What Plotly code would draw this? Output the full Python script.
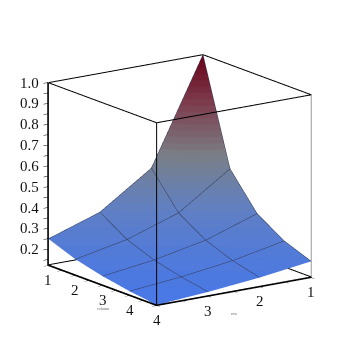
import plotly.graph_objects as go

rows = [1, 2, 3, 4]
columns = [1, 2, 3, 4, 5]
# z_values[row index][column index]
z_values = [
    [1.000, 0.500, 0.333, 0.250, 0.200],
    [0.500, 0.333, 0.250, 0.200, 0.167],
    [0.333, 0.250, 0.200, 0.167, 0.143],
    [0.250, 0.200, 0.167, 0.143, 0.125],
]
row_ticks = [1, 1.5, 2, 2.5, 3, 3.5, 4]
col_ticks = [1, 1.5, 2, 2.5, 3, 3.5, 4, 4.5, 5]
row_labels = ["1", "2", "3", "4"]
col_labels = ["1", "2", "3", "4"]
z_ticks = [0.15, 0.2, 0.25, 0.3, 0.35, 0.4, 0.45, 0.5, 0.55, 0.6, 0.65, 0.7, 0.75, 0.8, 0.85, 0.9, 0.95, 1.0]
z_label_values = [0.2, 0.3, 0.4, 0.5, 0.6, 0.7, 0.8, 0.9, 1.0]
z_label_text = ["0.2", "0.3", "0.4", "0.5", "0.6", "0.7", "0.8", "0.9", "1.0"]
color_stops = [(0, (72, 119, 230)), (0.25, (96, 128, 196)), (0.5, (122, 127, 134)),
               (0.75, (125, 64, 80)), (1, (106, 0, 24))]
z_low, z_high = 0.125, 1.0
row_low, row_high = 1, 4
col_low, col_high = 1, 5
FONT = "Liberation Serif"
BANDS = 32

def shade(t):
    for (t0, c0), (t1, c1) in zip(color_stops, color_stops[1:]):
        if t <= t1:
            f = (t - t0) / (t1 - t0)
            return "rgb(%d,%d,%d)" % tuple(round(p + (q - p) * f) for p, q in zip(c0, c1))
    return "rgb(%d,%d,%d)" % color_stops[-1][1]

colors = []
for i in range(BANDS):
    col = shade((i + 0.5) / BANDS)
    colors += [[i / BANDS, col], [(i + 1) / BANDS, col]]

def axis(vals, rng):
    return dict(title=dict(text=""), tickvals=vals, range=rng, showticklabels=False,
                showgrid=False, zeroline=False, showbackground=False,
                showline=True, linecolor="black", linewidth=1.5,
                ticks="outside", ticklen=5, tickcolor="black", showspikes=False)

fig = go.Figure(go.Surface(
    x=rows, y=columns, z=[list(c) for c in zip(*z_values)], colorscale=colors,
    cmin=z_low, cmax=z_high, showscale=False,
    lighting=dict(ambient=1, diffuse=0, specular=0, roughness=1, fresnel=0),
    contours=dict(
        x=dict(show=True, start=1, end=4, size=1, color="#333a55", width=1),
        y=dict(show=True, start=1, end=5, size=1, color="#333a55", width=1),
    ),
))

# frame of the box, taken from the axis ranges
def edge(p, q, color="black", width=2):
    fig.add_trace(go.Scatter3d(x=[p[0], q[0]], y=[p[1], q[1]], z=[p[2], q[2]], mode="lines",
                               line=dict(color=color, width=width), hoverinfo="skip", showlegend=False))
a, b, c, d, lo, hi = row_low, row_high, col_low, col_high, z_low, z_high
for c1, c2 in [((a, c), (a, d)), ((a, d), (b, d)), ((b, d), (b, c)), ((b, c), (a, c))]:
    edge((*c1, hi), (*c2, hi))
    edge((*c1, lo), (*c2, lo))
edge((b, d, lo), (b, d, hi))
edge((b, c, lo), (b, c, hi))
edge((a, d, lo), (a, d, hi), color="#999999")

annotations = []
def label(x, y, z, text, size, xshift=0, yshift=0, xanchor="center"):
    annotations.append(dict(x=x, y=y, z=z, text=text, showarrow=False, xshift=xshift, yshift=yshift,
                            xanchor=xanchor, yanchor="middle",
                            font=dict(family=FONT, size=size, color="#111" if size > 5 else "#666")))
for v, t in zip(columns, col_labels):
    label(row_high, v, z_low, t, 15, yshift=-15)
for v, t in zip(rows, row_labels):
    label(v, col_high, z_low, t, 15, yshift=-15)
for v, t in zip(z_label_values, z_label_text):
    label(row_high, col_low, v, t, 15, xshift=-7, xanchor="right")
label(row_high, 3, z_low, "column", 4, yshift=-24)
label(2.5, col_high, z_low, "row", 4, yshift=-23)

center = dict(x=-0.0215, y=0.0251, z=-0.0309)
fig.update_layout(
    width=355, height=355, margin=dict(l=0, r=0, t=0, b=0),
    paper_bgcolor="white", showlegend=False,
    scene=dict(
        xaxis=axis(row_ticks, [row_low - 0.01, row_high + 0.01]),
        yaxis=axis(col_ticks, [col_low - 0.01, col_high + 0.01]),
        zaxis=axis(z_ticks, [z_low - 0.003, z_high + 0.003]),
        aspectmode="manual", aspectratio=dict(x=1.07, y=1.07, z=1.07),
        annotations=annotations,
        camera=dict(eye=dict(x=1.145 + center["x"], y=1.637 + center["y"], z=0.536 + center["z"]),
                    center=center, up=dict(x=0, y=0, z=1),
                    projection=dict(type="orthographic")),
    ),
)
fig.write_html("out.html")
